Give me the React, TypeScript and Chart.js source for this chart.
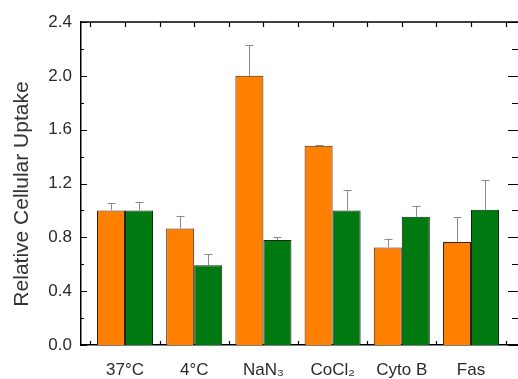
import React, { useEffect, useRef } from "react";
import { Chart, registerables } from "chart.js";

Chart.register(...registerables);

const categories = ["37°C", "4°C", "NaN₃", "CoCl₂", "Cyto B", "Fas"];
const orangeValues = [1.0, 0.865, 2.0, 1.48, 0.725, 0.765];
const orangeErrTop = [1.055, 0.96, 2.23, 1.485, 0.79, 0.95];
const greenValues = [1.0, 0.592, 0.78, 1.0, 0.953, 1.005];
const greenErrTop = [1.06, 0.674, 0.8, 1.15, 1.035, 1.225];
const yTickValues = [0, 0.4, 0.8, 1.2, 1.6, 2.0, 2.4];

const FONT = "'Liberation Sans', Arial, sans-serif";

const errorBarPlugin = {
  id: "errorBars",
  afterDatasetsDraw(chart: any) {
    const ctx = chart.ctx;
    const yScale = chart.scales.y;
    const errs = [orangeErrTop, greenErrTop];
    ctx.save();
    ctx.strokeStyle = "#8a8a8a";
    ctx.lineWidth = 1;
    chart.data.datasets.forEach((ds: any, di: number) => {
      const meta = chart.getDatasetMeta(di);
      meta.data.forEach((bar: any, i: number) => {
        const yTop = yScale.getPixelForValue(errs[di][i]);
        const yBar = bar.y;
        const x = Math.round(bar.x) + 0.5;
        ctx.beginPath();
        ctx.moveTo(x, yBar);
        ctx.lineTo(x, yTop);
        ctx.moveTo(x - 4, Math.round(yTop) + 0.5);
        ctx.lineTo(x + 4, Math.round(yTop) + 0.5);
        ctx.stroke();
      });
    });
    ctx.restore();
  },
};

const framePlugin = {
  id: "frame",
  afterDraw(chart: any) {
    const ctx = chart.ctx;
    const { left, right, top, bottom } = chart.chartArea;
    const x = chart.scales.x;
    const y = chart.scales.y;
    ctx.save();
    ctx.strokeStyle = "#000";
    ctx.lineWidth = 1.5;
    ctx.beginPath();
    ctx.moveTo(left, top);
    ctx.lineTo(right, top);
    ctx.moveTo(right, top);
    ctx.lineTo(right, bottom);
    ctx.stroke();
    ctx.lineWidth = 1.2;
    ctx.beginPath();
    for (let v = 0; v <= 2.4001; v += 0.2) {
      const py = Math.round(y.getPixelForValue(v)) + 0.5;
      const major = Math.round(v * 10) % 4 === 0;
      const len = major ? 6 : 3;
      ctx.moveTo(left, py);
      ctx.lineTo(left + len, py);
      ctx.moveTo(right - 1, py);
      ctx.lineTo(right - 1 - (major ? 11 : 7), py);
    }
    for (let v = 0.5; v <= 6.6; v += 0.5) {
      const px = Math.round(x.getPixelForValue(v)) + 0.5;
      ctx.moveTo(px, top);
      ctx.lineTo(px, top + 5);
      if (Math.abs(v - Math.round(v)) > 0.1) {
        ctx.moveTo(px, bottom);
        ctx.lineTo(px, bottom - 4);
      }
    }
    ctx.stroke();
    // y axis title
    ctx.fillStyle = "#333";
    ctx.font = `21px ${FONT}`;
    ctx.textAlign = "center";
    ctx.textBaseline = "middle";
    ctx.translate(22, 194);
    ctx.rotate(-Math.PI / 2);
    ctx.fillText("Relative Cellular Uptake", 0, 0);
    ctx.restore();
  },
};

export default function App() {
  const ref = useRef<HTMLCanvasElement | null>(null);
  useEffect(() => {
    if (!ref.current) return;
    const chart = new Chart(ref.current, {
      type: "bar",
      data: {
        datasets: [
          {
            label: "A",
            data: orangeValues.map((v, i) => ({ x: i + 1, y: v })),
            backgroundColor: "#ff7f00",
            borderColor: "#3a2010",
            borderWidth: 1,
            categoryPercentage: 0.81,
            barPercentage: 1,
          },
          {
            label: "B",
            data: greenValues.map((v, i) => ({ x: i + 1, y: v })),
            backgroundColor: "#007a10",
            borderColor: "#0c260c",
            borderWidth: 1,
            categoryPercentage: 0.81,
            barPercentage: 1,
          },
        ],
      },
      options: {
        animation: false,
        responsive: false,
        maintainAspectRatio: false,
        layout: { padding: { left: 0, right: 10, top: 22, bottom: 0 } },
        plugins: { legend: { display: false }, tooltip: { enabled: false } },
        scales: {
          x: {
            type: "linear",
            offset: false,
            min: 0.364,
            max: 6.708,
            grid: { display: false, drawTicks: false, offset: false },
            border: { display: true, color: "#000", width: 1.5 },
            afterBuildTicks: (s: any) => {
              s.ticks = categories.map((_, i) => ({ value: i + 1 }));
            },
            afterFit: (s: any) => {
              s.height = 34;
            },
            ticks: {
              autoSkip: false,
              maxRotation: 0,
              padding: 15,
              color: "#2a2a2a",
              font: { size: 17, family: FONT },
              callback: (v: any) => categories[Math.round(v) - 1] ?? "",
            },
          },
          y: {
            min: 0,
            max: 2.4,
            grid: { display: false, drawTicks: false },
            border: { display: true, color: "#000", width: 1.5 },
            afterBuildTicks: (s: any) => {
              s.ticks = yTickValues.map((v) => ({ value: v }));
            },
            afterFit: (s: any) => {
              s.width = 81;
            },
            ticks: {
              padding: 9,
              color: "#2a2a2a",
              font: { size: 17, family: FONT },
              callback: (v: any) => Number(v).toFixed(1),
            },
          },
        },
      },
      plugins: [errorBarPlugin, framePlugin],
    } as any);
    return () => chart.destroy();
  }, []);
  return (
    <div style={{ position: "fixed", left: 0, top: 0, width: 530, height: 379, background: "#fff" }}>
      <canvas ref={ref} width={530} height={379} style={{ width: 530, height: 379, display: "block" }} />
    </div>
  );
}
